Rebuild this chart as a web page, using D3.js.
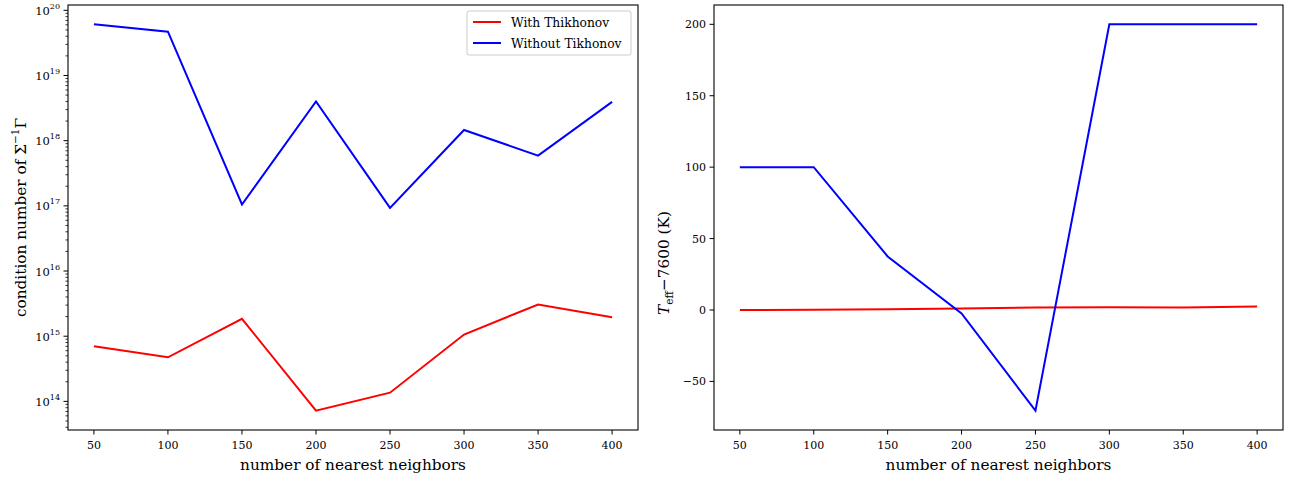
<!DOCTYPE html>
<html><head><meta charset="utf-8">
<script src="https://cdn.jsdelivr.net/npm/d3@7"></script>
<style>
html,body{margin:0;padding:0;background:#fff;}
</style></head>
<body>
<svg id="chart" width="1295" height="479" font-family="'DejaVu Serif', serif"></svg>
<script>
// ---- data ----
const neighbors = [50, 100, 150, 200, 250, 300, 350, 400];
const condWith = [7.0e14, 4.75e14, 1.85e15, 7.2e13, 1.36e14, 1.06e15, 3.07e15, 1.96e15];
const condWithout = [6.1e19, 4.7e19, 1.05e17, 4.0e18, 9.3e16, 1.46e18, 5.9e17, 3.94e18];
const teffWith = [0, 0.2, 0.5, 1.1, 1.8, 2.0, 1.8, 2.5];
const teffWithout = [100, 100, 37.5, -2.4, -70.5, 200, 200, 200];
const xTicks = [50, 100, 150, 200, 250, 300, 350, 400];
const logMajorExps = [14, 15, 16, 17, 18, 19, 20];
const linTicks = [-50, 0, 50, 100, 150, 200];
const seriesNames = ["With Thikhonov", "Without Tikhonov"];
const seriesColors = ["#ff0000", "#0000ff"];

const svg = d3.select("#chart");
const L = {left: 68, right: 638, top: 5, bottom: 430};
const R = {left: 714, right: 1283, top: 5, bottom: 430};
const TICK = 11, LAB = 15.3;

const xpad = 0.05 * (d3.max(neighbors) - d3.min(neighbors));
const xDom = [d3.min(neighbors) - xpad, d3.max(neighbors) + xpad];
const xL = d3.scaleLinear().domain(xDom).range([L.left, L.right]);
const xR = d3.scaleLinear().domain(xDom).range([R.left, R.right]);

const allCond = condWith.concat(condWithout);
const lo = Math.log10(d3.min(allCond)), hi = Math.log10(d3.max(allCond));
const lp = 0.05 * (hi - lo);
const yL = d3.scaleLog().domain([Math.pow(10, lo - lp), Math.pow(10, hi + lp)]).range([L.bottom, L.top]);

const allT = teffWith.concat(teffWithout);
const tlo = d3.min(allT), thi = d3.max(allT), tp = 0.05 * (thi - tlo);
const yR = d3.scaleLinear().domain([tlo - tp, thi + tp]).range([R.bottom, R.top]);

function frame(b) {
  svg.append("rect").attr("x", b.left).attr("y", b.top)
    .attr("width", b.right - b.left).attr("height", b.bottom - b.top)
    .attr("fill", "none").attr("stroke", "#000").attr("stroke-width", 1.1);
}

function xAxis(x, b) {
  const g = svg.append("g");
  xTicks.forEach(t => {
    g.append("line").attr("x1", x(t)).attr("x2", x(t)).attr("y1", b.bottom).attr("y2", b.bottom + 4.5)
      .attr("stroke", "#000").attr("stroke-width", 1);
    g.append("text").attr("x", x(t)).attr("y", b.bottom + 19).attr("text-anchor", "middle")
      .attr("font-size", TICK).text(t);
  });
  svg.append("text").attr("x", (b.left + b.right) / 2).attr("y", b.bottom + 40)
    .attr("text-anchor", "middle").attr("font-size", LAB).text("number of nearest neighbors");
}

// ---- left panel ----
const dom = yL.domain();
const gl = svg.append("g");
for (let e = 13; e <= 20; e++) {
  for (let k = 1; k <= 9; k++) {
    const v = k * Math.pow(10, e);
    if (v < dom[0] || v > dom[1]) continue;
    const major = k === 1;
    gl.append("line").attr("x1", L.left).attr("x2", L.left - (major ? 4.5 : 2.5))
      .attr("y1", yL(v)).attr("y2", yL(v)).attr("stroke", "#000").attr("stroke-width", major ? 1 : 0.8);
  }
}
logMajorExps.forEach(e => {
  const t = gl.append("text").attr("x", L.left - 8).attr("y", yL(Math.pow(10, e)) + 4.5)
    .attr("text-anchor", "end").attr("font-size", TICK + 0.5);
  t.append("tspan").text("10");
  t.append("tspan").attr("dy", -6).attr("font-size", 8).text(e);
});
const lyl = svg.append("text").attr("transform", `translate(26,${(L.top + L.bottom) / 2}) rotate(-90)`)
  .attr("text-anchor", "middle").attr("font-size", LAB);
lyl.append("tspan").text("condition number of Σ");
lyl.append("tspan").attr("dy", -7).attr("font-size", 10.5).text("−1");
lyl.append("tspan").attr("dy", 7).text("Γ");

xAxis(xL, L);

const lineL = d3.line().x((d, i) => xL(neighbors[i])).y(d => yL(d));
[condWith, condWithout].forEach((s, i) => {
  svg.append("path").attr("d", lineL(s)).attr("fill", "none")
    .attr("stroke", seriesColors[i]).attr("stroke-width", 2);
});
frame(L);

// legend
const lg = svg.append("g");
lg.append("rect").attr("x", 467).attr("y", 11).attr("width", 164).attr("height", 44).attr("rx", 2)
  .attr("fill", "#fff").attr("stroke", "#cccccc").attr("stroke-width", 1);
seriesNames.forEach((n, i) => {
  const yy = 22 + i * 21;
  lg.append("line").attr("x1", 473).attr("x2", 501).attr("y1", yy).attr("y2", yy)
    .attr("stroke", seriesColors[i]).attr("stroke-width", 2);
  lg.append("text").attr("x", 511).attr("y", yy + 4.5).attr("font-size", 12.3).text(n);
});

// ---- right panel ----
const gr = svg.append("g");
linTicks.forEach(t => {
  gr.append("line").attr("x1", R.left).attr("x2", R.left - 4.5).attr("y1", yR(t)).attr("y2", yR(t))
    .attr("stroke", "#000").attr("stroke-width", 1);
  gr.append("text").attr("x", R.left - 8).attr("y", yR(t) + 4).attr("text-anchor", "end")
    .attr("font-size", TICK).text(t < 0 ? "−" + Math.abs(t) : t);
});
const ryl = svg.append("text").attr("transform", `translate(669,263) rotate(-90)`)
  .attr("text-anchor", "middle").attr("font-size", LAB);
ryl.append("tspan").attr("font-style", "italic").text("T");
ryl.append("tspan").attr("dy", 4).attr("font-size", 10.5).text("eff");
ryl.append("tspan").attr("dy", -4).text("−7600 (K)");

xAxis(xR, R);

const lineR = d3.line().x((d, i) => xR(neighbors[i])).y(d => yR(d));
[teffWith, teffWithout].forEach((s, i) => {
  svg.append("path").attr("d", lineR(s)).attr("fill", "none")
    .attr("stroke", seriesColors[i]).attr("stroke-width", 2);
});
frame(R);
</script>
</body></html>
